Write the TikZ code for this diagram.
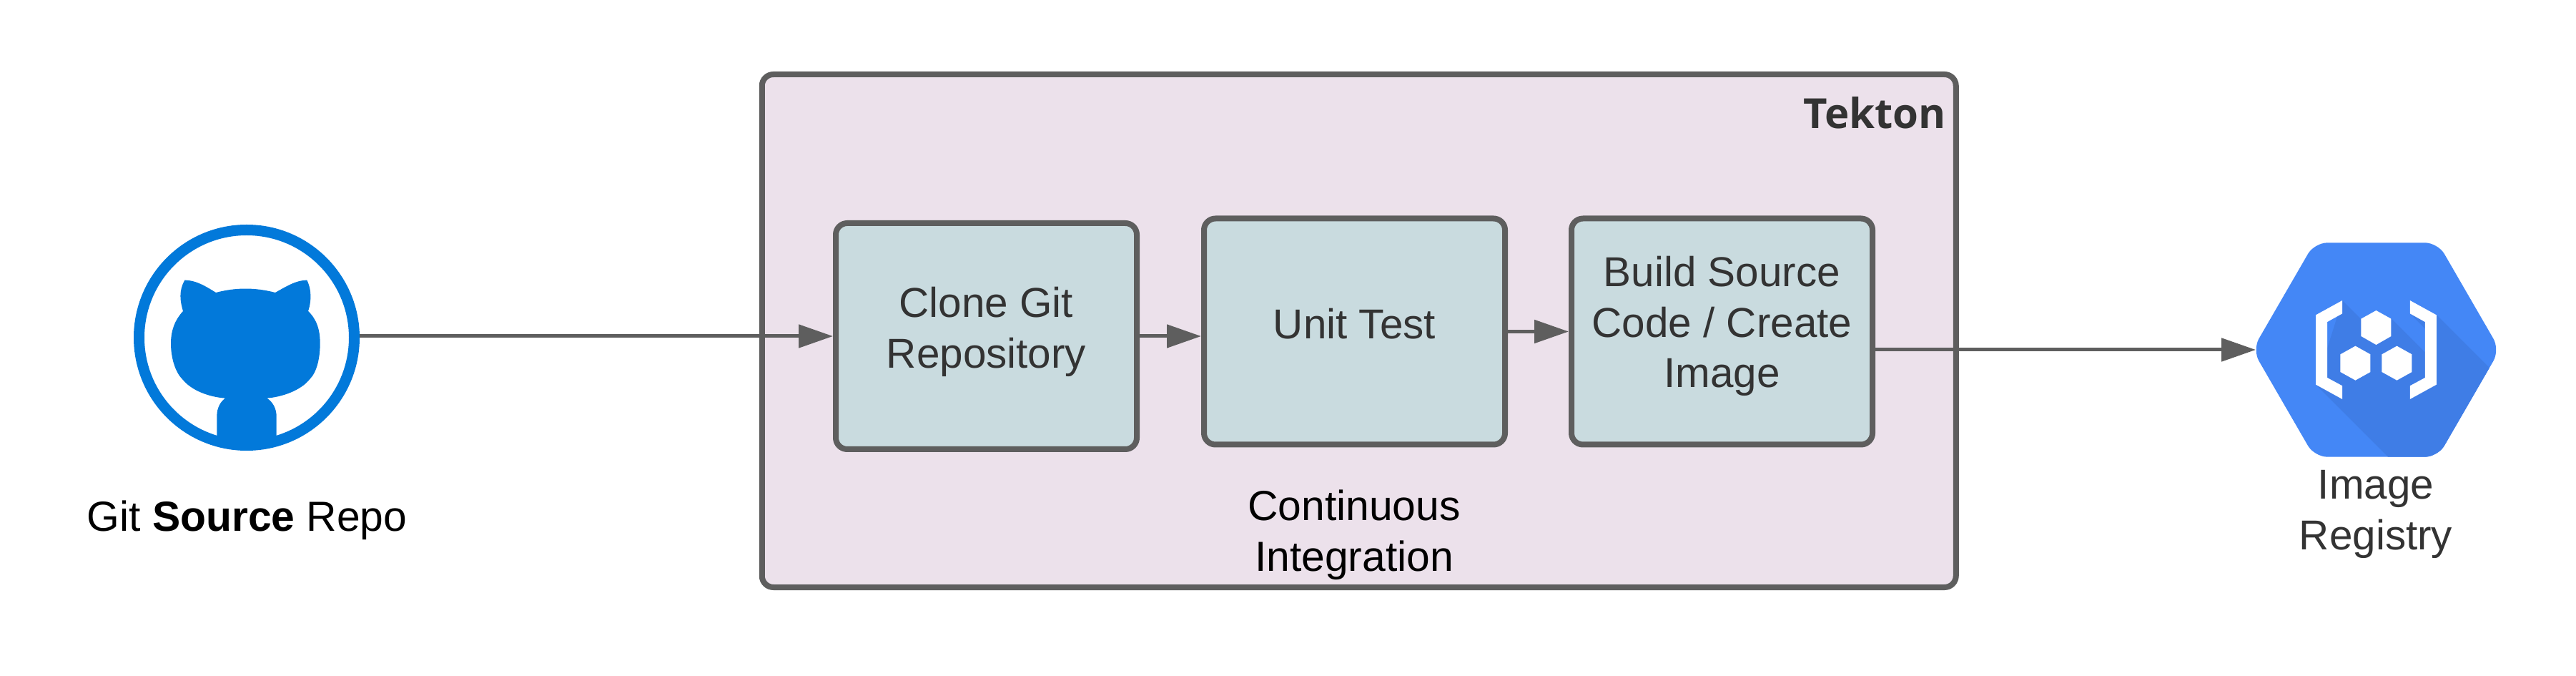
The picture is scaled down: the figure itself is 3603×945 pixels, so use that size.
\documentclass[tikz,border=0pt]{standalone}
\usepackage{fontspec}
\setmainfont{Liberation Sans}
\newfontfamily\tekfont{Open Sans}
\usetikzlibrary{arrows.meta}
\definecolor{edgegray}{HTML}{5E5E5E}
\definecolor{framefill}{HTML}{ECE1EB}
\definecolor{boxfill}{HTML}{C9DBDF}
\definecolor{inkdark}{HTML}{333333}
\definecolor{ghblue}{HTML}{0279DA}
\definecolor{regblue}{HTML}{4487F6}
\definecolor{regshade}{HTML}{3F7DE6}
\tikzset{
  labeltext/.style={font=\fontsize{29.2}{35.3}\selectfont, align=center, inner sep=0pt, outer sep=0pt},
  framebox/.style={draw=edgegray, fill=framefill, line width=4pt, rounded corners=8pt, inner sep=0pt, minimum width=835pt, minimum height=358.5pt},
  stepbox/.style={draw=edgegray, fill=boxfill, line width=4pt, rounded corners=8pt, inner sep=0pt, outer sep=2pt, minimum width=210.5pt, minimum height=158pt},
  steptext/.style={labeltext, text=inkdark},
  flow/.style={draw=edgegray, line width=2.5pt, -{Triangle[length=24pt,width=16pt]}},
}
\begin{document}
\begin{tikzpicture}[x=0.5pt,y=-0.5pt]
\useasboundingbox (0,0) rectangle (3603,945);
\fill[white] (0,0) rectangle (3603,945);
% frame
\node[framebox] (frame) at (1900.75,462.5) {};
\node[anchor=base east, inner sep=0pt, font=\tekfont\bfseries\fontsize{29}{36}\selectfont, text=inkdark] (tekton) at (2722,180) {Tekton};
% steps
\node[stepbox] (clone) at (1379.5,470) {};
\node[stepbox] (unit) at (1894.5,463.5) {};
\node[stepbox] (build) at (2408.5,463.5) {};
\node[steptext] (clonetext) at (1379.5,464) {Clone Git\\Repository};
\node[steptext] (unittext) at (1894.5,453) {Unit Test};
\node[steptext] (buildtext) at (2408.5,456) {Build Source\\Code / Create\\Image};
\node[labeltext, font=\fontsize{29.4}{35.3}\selectfont] (ci) at (1894,748) {Continuous\\Integration};
% git icon
\node[circle, draw=ghblue, line width=7.5pt, fill=white, minimum size=150.5pt, inner sep=0pt] (git) at (345,472) {};
\begin{scope}[x=0.166667pt, y=-0.166667pt, shift={(450,840)}]
\fill[ghblue] (325,335) .. controls (375,335) and (420,365) .. (456,387)
  .. controls (540,365) and (620,365) .. (705,387)
  .. controls (745,365) and (790,335) .. (838,335)
  .. controls (860,380) and (855,430) .. (843,465)
  .. controls (880,500) and (893,545) .. (893,600)
  .. controls (893,660) and (880,720) .. (850,750)
  .. controls (810,800) and (730,825) .. (670,830)
  .. controls (695,845) and (710,875) .. (710,905)
  -- (710,1030) -- (460,1030) -- (460,905)
  .. controls (460,870) and (475,845) .. (495,830)
  .. controls (430,825) and (355,800) .. (315,750)
  .. controls (285,720) and (267,660) .. (267,600)
  .. controls (267,545) and (285,500) .. (318,465)
  .. controls (305,420) and (300,380) .. (325,335) -- cycle;
\end{scope}
\node[labeltext, anchor=base, font=\fontsize{29.4}{35.3}\selectfont] (gitlabel) at (345.5,742.7) {Git \textbf{Source} Repo};
% registry icon
\begin{scope}[x=0.166667pt, y=-0.166667pt, shift={(9360,930)}]
\begin{scope}
\clip[rounded corners=9pt] (91,537) -- (351,88) -- (869,88) -- (1129,537) -- (869,986) -- (351,986) -- cycle;
\fill[regblue] (0,0) rectangle (1200,1050);
\fill[regshade] (468,330) -- (560,422) -- (610,400) -- (673,405) -- (815,547) -- (863,390) -- (1200,727) -- (1200,1050) -- (724,1050) -- (357,683) -- cycle;
\fill[regshade] (752,385) -- (815,420) -- (815,448) -- cycle;
\end{scope}
\fill[white] (468,330) -- (357,391) -- (357,683) -- (468,744) -- (468,688) -- (405,654) -- (405,420) -- (468,385) -- cycle;
\fill[white] (752,330) -- (863,391) -- (863,683) -- (752,744) -- (752,688) -- (815,654) -- (815,420) -- (752,385) -- cycle;
\fill[white] (610,372) -- (673,407) -- (673,480) -- (610,516) -- (547,480) -- (547,407) -- cycle;
\fill[white] (523,521) -- (586,556) -- (586,630) -- (523,665) -- (460,630) -- (460,556) -- cycle;
\fill[white] (697,521) -- (760,556) -- (760,630) -- (697,665) -- (634,630) -- (634,556) -- cycle;
\end{scope}
\node[inner sep=0pt, outer sep=0pt, minimum width=168pt, minimum height=150pt] (registry) at (3323,489) {};
\node[labeltext, text=inkdark] (reglabel) at (3323,719) {Image\\Registry};
% connectors
\draw[flow] (git.east |- clone.west) -- (clone.west);
\draw[flow] (clone.east) -- (clone.east -| unit.west);
\draw[flow] (unit.east) -- (build.west);
\draw[flow] (build.east |- registry.west) -- (registry.west);
\end{tikzpicture}
\end{document}
